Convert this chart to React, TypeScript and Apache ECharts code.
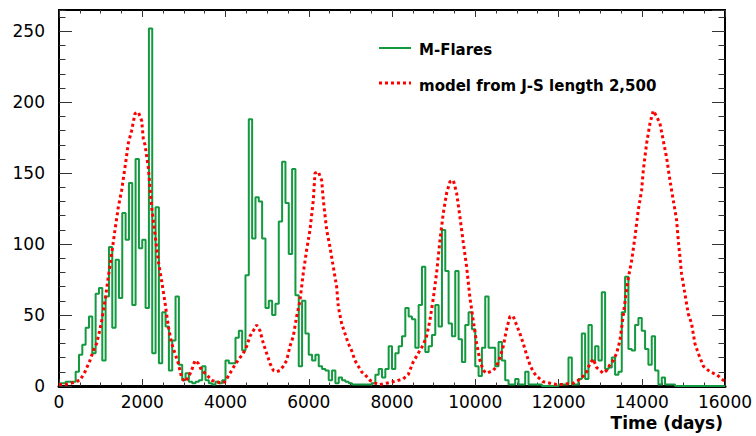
import React, { useEffect, useRef } from 'react';
import * as echarts from 'echarts';

// M-flare counts per 80-day bin, starting at day 0
const binDays = 80;
const flareCounts = [
  2, 2, 3, 3, 3, 10, 22, 29, 41, 49,
  23, 65, 69, 18, 63, 98, 41, 89, 62, 122,
  103, 143, 57, 160, 97, 103, 55, 252, 23, 126,
  16, 52, 42, 11, 32, 63, 15, 4, 9, 3,
  2, 3, 4, 14, 4, 2, 1, 3, 2, 4,
  18, 16, 16, 34, 39, 25, 78, 188, 104, 133,
  130, 104, 55, 60, 50, 58, 116, 158, 129, 93,
  153, 64, 14, 60, 37, 22, 18, 22, 14, 12,
  11, 4, 11, 2, 6, 4, 3, 2, 1, 1,
  1, 1, 1, 1, 2, 8, 12, 6, 12, 28,
  12, 23, 28, 35, 55, 49, 47, 27, 57, 84,
  24, 28, 36, 57, 42, 110, 81, 44, 35, 81,
  33, 17, 43, 52, 40, 14, 7, 27, 63, 27,
  27, 14, 31, 18, 4, 1, 1, 5, 1, 1,
  10, 1, 1, 1, 1, 0, 0, 0, 0, 0,
  1, 1, 1, 20, 1, 1, 5, 37, 5, 43,
  18, 28, 18, 66, 12, 13, 20, 8, 10, 52,
  77, 26, 25, 43, 48, 39, 26, 15, 35, 11,
  1, 6, 1, 1, 1, 0, 0, 0, 0, 0,
  0, 0, 0, 0, 0, 0, 0, 0, 0, 0,
];

// model from J-S length 2,500
const modelDays = [
  0, 150, 300, 384, 504, 625, 745, 825, 905, 985, 1025, 1105, 1185, 1265, 1345, 1425, 1505, 1585, 1665, 1745,
  1826, 1906, 1986, 2026, 2066, 2146, 2226, 2306, 2386, 2466, 2546, 2626, 2706, 2786, 2866, 2946, 3026, 3106, 3186, 3267,
  3347, 3427, 3547, 3667, 3787, 3908, 3988, 4108, 4228, 4348, 4428, 4508, 4588, 4668, 4749, 4829, 4909, 4989, 5069, 5149,
  5229, 5309, 5389, 5469, 5549, 5629, 5709, 5789, 5870, 5950, 6030, 6110, 6150, 6230, 6310, 6350, 6430, 6510, 6590, 6670,
  6710, 6790, 6870, 6950, 7030, 7110, 7190, 7270, 7350, 7470, 7590, 7710, 7870, 8030, 8150, 8270, 8390, 8510, 8590, 8670,
  8750, 8830, 8910, 8993, 9073, 9153, 9233, 9313, 9393, 9473, 9553, 9633, 9713, 9793, 9873, 9953, 10033, 10113, 10193, 10273,
  10353, 10433, 10513, 10593, 10673, 10753, 10833, 10913, 10993, 11073, 11153, 11233, 11313, 11393, 11473, 11633, 11793, 11953, 12113, 12273,
  12356, 12476, 12596, 12676, 12756, 12836, 12916, 12996, 13076, 13156, 13236, 13316, 13396, 13476, 13556, 13636, 13676, 13756, 13837, 13917,
  13997, 14037, 14117, 14197, 14277, 14357, 14437, 14517, 14597, 14677, 14757, 14837, 14877, 14957, 15037, 15117, 15197, 15277, 15357, 15480,
  15640, 15800, 15960, 16000,
];
const modelValues = [
  1, 1, 2, 3, 4, 10, 18, 25, 30, 40, 46, 60, 77, 93, 110, 126, 138, 154, 171, 180,
  192, 193, 187, 174, 170, 154, 126, 107, 88, 74, 59, 42, 30, 23, 16, 6, 3, 6, 11, 18,
  16, 11, 8, 4, 3, 2, 3, 9, 15, 20, 23, 28, 35, 39, 43, 39, 30, 23, 16, 11,
  10, 11, 14, 18, 28, 35, 49, 60, 80, 96, 110, 131, 150, 151, 145, 131, 110, 98, 84, 70,
  56, 44, 37, 30, 25, 18, 14, 10, 8, 4, 2, 1, 2, 3, 4, 5, 8, 17, 21, 25,
  29, 35, 46, 62, 80, 103, 122, 136, 144, 145, 136, 119, 101, 84, 62, 46, 30, 18, 11, 9,
  10, 11, 14, 20, 28, 40, 49, 49, 43, 37, 30, 22, 15, 10, 7, 3, 2, 1, 1, 2,
  2, 4, 7, 10, 16, 19, 13, 11, 9, 11, 15, 18, 23, 32, 50, 68, 76, 88, 105, 124,
  138, 152, 171, 185, 194, 190, 185, 173, 161, 145, 131, 117, 103, 79, 65, 51, 44, 30, 23, 14,
  10, 8, 4, 4,
];

const xMin = 0;
const xMax = 16000;
const xInterval = 2000;
const yMin = 0;
const yMax = 265;
const yInterval = 50;
const yMinorInterval = 10;

const seriesNames = ['M-Flares', 'model from J-S length 2,500'];
const xAxisTitle = 'Time (days)';

const FONT = "'DejaVu Sans', Verdana, sans-serif";
const GREEN = '#13993f';
const RED = '#ff0000';

export default function App() {
  const ref = useRef<HTMLDivElement>(null);

  useEffect(() => {
    if (!ref.current) return;
    document.body.style.margin = '0';
    const chart = echarts.init(ref.current, undefined, { renderer: 'svg' });

    const flareData: number[][] = flareCounts.map((v, i) => [i * binDays, v]);
    flareData.push([flareCounts.length * binDays, flareCounts[flareCounts.length - 1]]);
    const modelData = modelDays.map((d, i) => [d, modelValues[i]]);

    const tickColor = '#333';
    const xAxisBase = (pos: 'bottom' | 'top', labels: boolean) => ({
      type: 'value',
      position: pos,
      min: xMin,
      max: xMax,
      interval: xInterval,
      axisLine: { show: pos === 'bottom', onZero: false, lineStyle: { color: '#000', width: 3 } },
      axisTick: { show: true, inside: true, length: 7, lineStyle: { color: tickColor, width: 1 } },
      minorTick: { show: true, splitNumber: 4, length: 3.5, lineStyle: { color: tickColor, width: 1 } },
      splitLine: { show: false },
      minorSplitLine: { show: false },
      axisLabel: {
        show: labels,
        fontFamily: FONT,
        fontSize: 17,
        color: '#000',
        margin: 7,
        formatter: (v: number) => String(v),
      },
    });

    const yAxisBase = (pos: 'left' | 'right', interval: number, len: number, labels: boolean) => ({
      type: 'value',
      position: pos,
      min: yMin,
      max: yMax,
      interval,
      axisLine: { show: false },
      axisTick: { show: true, inside: true, length: len, lineStyle: { color: tickColor, width: 1 } },
      splitLine: { show: false },
      axisLabel: {
        show: labels,
        showMaxLabel: false,
        fontFamily: FONT,
        fontSize: 17,
        color: '#000',
        margin: 14,
        formatter: (v: number) => String(v),
      },
    });

    chart.setOption({
      animation: false,
      backgroundColor: '#fff',
      grid: {
        left: 59,
        right: 31,
        top: 10,
        bottom: 50,
        show: true,
        borderColor: '#000',
        borderWidth: 2,
      },
      xAxis: [xAxisBase('bottom', true), xAxisBase('top', false)],
      yAxis: [
        yAxisBase('left', yInterval, 13, true),
        yAxisBase('left', yMinorInterval, 6.5, false),
        yAxisBase('right', yInterval, 13, false),
        yAxisBase('right', yMinorInterval, 6.5, false),
      ],
      series: [
        {
          name: seriesNames[0],
          type: 'line',
          step: 'end',
          data: flareData,
          xAxisIndex: 0,
          yAxisIndex: 0,
          showSymbol: false,
          symbol: 'none',
          lineStyle: { color: GREEN, width: 2 },
          z: 2,
        },
        {
          name: seriesNames[1],
          type: 'line',
          data: modelData,
          xAxisIndex: 0,
          yAxisIndex: 0,
          showSymbol: false,
          symbol: 'none',
          lineStyle: { color: RED, width: 3, type: [3, 3], cap: 'butt' },
          z: 3,
        },
      ],
      graphic: [
        {
          type: 'line',
          shape: { x1: 379, y1: 48, x2: 411, y2: 48 },
          style: { stroke: GREEN, lineWidth: 2 },
        },
        {
          type: 'text',
          x: 419,
          y: 50,
          style: {
            text: seriesNames[0],
            fontFamily: FONT,
            fontWeight: 'bold',
            fontSize: 15,
            fill: '#000',
            textVerticalAlign: 'middle',
          },
        },
        {
          type: 'line',
          shape: { x1: 379, y1: 83, x2: 411, y2: 83 },
          style: { stroke: RED, lineWidth: 3, lineDash: [3, 3] },
        },
        {
          type: 'text',
          x: 419,
          y: 86,
          style: {
            text: seriesNames[1],
            fontFamily: FONT,
            fontWeight: 'bold',
            fontSize: 15,
            fill: '#000',
            textVerticalAlign: 'middle',
          },
        },
        {
          type: 'text',
          x: 723,
          y: 423,
          style: {
            text: xAxisTitle,
            fontFamily: FONT,
            fontWeight: 'bold',
            fontSize: 17,
            fill: '#000',
            textAlign: 'right',
            textVerticalAlign: 'middle',
          },
        },
      ],
    });

    return () => chart.dispose();
  }, []);

  return (
    <div
      ref={ref}
      style={{ position: 'fixed', left: 0, top: 0, width: 756, height: 436, background: '#fff' }}
    />
  );
}
